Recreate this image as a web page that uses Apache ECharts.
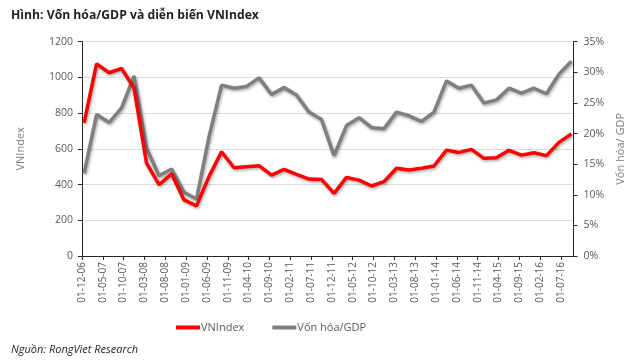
<!DOCTYPE html>
<html>
<head>
<meta charset="utf-8">
<script src="https://cdn.jsdelivr.net/npm/echarts@6/dist/echarts.min.js"></script>
<style>
html,body{margin:0;padding:0;background:#fff;}
#chart{width:639px;height:360px;}
</style>
</head>
<body>
<div id="chart"></div>
<script>
// Quarterly observations (month/year)
const quarters = [
  '12/2006','03/2007','06/2007','09/2007','12/2007','03/2008','06/2008','09/2008','12/2008','03/2009',
  '06/2009','09/2009','12/2009','03/2010','06/2010','09/2010','12/2010','03/2011','06/2011','09/2011',
  '12/2011','03/2012','06/2012','09/2012','12/2012','03/2013','06/2013','09/2013','12/2013','03/2014',
  '06/2014','09/2014','12/2014','03/2015','06/2015','09/2015','12/2015','03/2016','06/2016','09/2016'
];
const vnindex = [745,1076,1026,1050,940,520,399,460,314,281,
                 446,584,494,500,506,453,485,457,431,429,
                 351,440,425,392,416,491,481,491,504,593,
                 580,597,547,550,592,565,578,562,636,683];
const vonHoaGDP = [13.5,23.1,21.8,24.2,29.4,17.6,13.1,14.2,10.4,9.3,
                   19.5,27.9,27.4,27.7,29.1,26.4,27.5,26.3,23.5,22.3,
                   16.4,21.3,22.6,21.0,20.8,23.5,22.9,22.0,23.5,28.6,
                   27.4,27.9,25.0,25.5,27.4,26.6,27.4,26.5,29.7,31.8];
const leftTicks = [0,200,400,600,800,1000,1200];
const rightTicksPct = [0,5,10,15,20,25,30,35];
const axisStart = {year: 2006, month: 12};
const labelEveryMonths = 5;
const axisEndMonth = 118; // end of Sep 2016 measured in months from 01-12-06

function monthIndex(q){
  const [m, y] = q.split('/').map(Number);
  return (y - axisStart.year) * 12 + (m - axisStart.month) + 0.5; // mid-month
}
function labelFor(idx){
  const total = axisStart.year * 12 + (axisStart.month - 1) + idx;
  const y = Math.floor(total / 12), m = total % 12 + 1;
  return '01-' + String(m).padStart(2,'0') + '-' + String(y % 100).padStart(2,'0');
}

const font = 'Open Sans';
const chart = echarts.init(document.getElementById('chart'), null, {renderer:'canvas'});
const lineShadow = {shadowColor:'rgba(0,0,0,0.35)', shadowBlur:3, shadowOffsetX:1, shadowOffsetY:1.5};

chart.setOption({
  animation:false,
  backgroundColor:'#ffffff',
  textStyle:{fontFamily:font},
  title:[
    {text:'Hình: Vốn hóa/GDP và diễn biến VNIndex', left:6, top:5,
     textStyle:{fontFamily:font, fontSize:12.2, fontWeight:'bold', color:'#1f1f1f'}},
    {text:'Nguồn: RongViet Research', left:6, top:339,
     textStyle:{fontFamily:font, fontSize:11, fontStyle:'italic', fontWeight:'normal', color:'#1f1f1f'}}
  ],
  legend:{
    top:317, left:171, itemGap:28, itemWidth:24, itemHeight:4, icon:'rect',
    textStyle:{fontFamily:font, fontSize:11, color:'#595959', padding:[0,0,0,-4]},
    data:['VNIndex','Vốn hóa/GDP']
  },
  grid:{left:82, right:65.5, top:41.7, bottom:104},
  xAxis:{
    type:'value', min:0, max:axisEndMonth, interval:labelEveryMonths,
    axisLine:{show:true, lineStyle:{color:'#262626', width:1}},
    axisTick:{show:true, length:4, lineStyle:{color:'#262626'}},
    splitLine:{show:false},
    axisLabel:{rotate:90, margin:6, fontSize:10, color:'#595959', fontFamily:font,
      showMaxLabel:false,
      formatter:function(v){ return (v % labelEveryMonths === 0) ? labelFor(v) : ''; }}
  },
  yAxis:[
    {type:'value', min:leftTicks[0], max:leftTicks[leftTicks.length-1], interval:leftTicks[1]-leftTicks[0],
     name:'VNIndex', nameLocation:'middle', nameRotate:90, nameGap:56,
     nameTextStyle:{fontFamily:font, fontSize:11, color:'#7f7f7f'},
     axisLine:{show:true, lineStyle:{color:'#262626'}},
     axisTick:{show:true, length:4, lineStyle:{color:'#262626'}},
     axisLabel:{fontSize:10.5, color:'#595959', margin:9, fontFamily:font, formatter:function(v){return String(v);}},
     splitLine:{show:true, lineStyle:{color:'#dcdcdc', width:1.2}}},
    {type:'value', min:rightTicksPct[0], max:rightTicksPct[rightTicksPct.length-1], interval:rightTicksPct[1]-rightTicksPct[0],
     position:'right',
     name:'Vốn hóa/ GDP', nameLocation:'middle', nameRotate:90, nameGap:41,
     nameTextStyle:{fontFamily:font, fontSize:11, color:'#7f7f7f'},
     axisLine:{show:true, lineStyle:{color:'#262626'}},
     axisTick:{show:true, length:4, lineStyle:{color:'#262626'}},
     axisLabel:{fontSize:10.5, color:'#595959', margin:10, fontFamily:font, formatter:'{value}%'},
     splitLine:{show:false}}
  ],
  series:[
    {name:'VNIndex', type:'line', yAxisIndex:0, symbol:'none', z:3,
     lineStyle:Object.assign({color:'#ff0000', width:3.5}, lineShadow),
     itemStyle:{color:'#ff0000'},
     data:quarters.map((q,i)=>[monthIndex(q), vnindex[i]])},
    {name:'Vốn hóa/GDP', type:'line', yAxisIndex:1, symbol:'none', z:2,
     lineStyle:Object.assign({color:'#7f7f7f', width:3.5}, lineShadow),
     itemStyle:{color:'#7f7f7f'},
     data:quarters.map((q,i)=>[monthIndex(q), vonHoaGDP[i]])}
  ]
});
</script>
</body>
</html>
